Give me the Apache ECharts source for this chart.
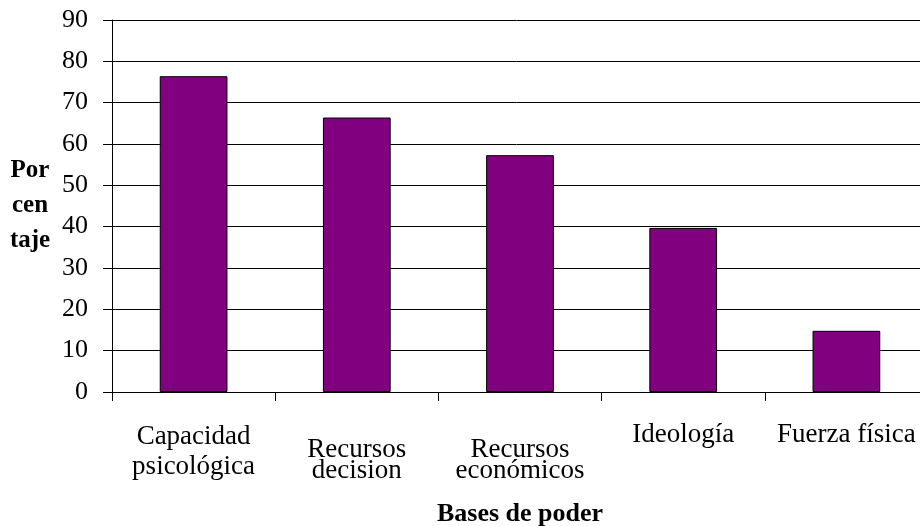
<!DOCTYPE html>
<html>
<head>
<meta charset="utf-8">
<script src="https://cdn.jsdelivr.net/npm/echarts@6/dist/echarts.min.js"></script>
<style>
  html, body { margin: 0; padding: 0; background: #fff; }
  #chart { width: 920px; height: 526px; }
</style>
</head>
<body>
<div id="chart"></div>
<script>
// Bases de poder: porcentaje por categoría
const categories = [
  'Capacidad\npsicológica',
  'Recursos\ndecision',
  'Recursos\neconómicos',
  'Ideología',
  'Fuerza física'
];
const percentages = [76.4, 66.4, 57.3, 39.7, 14.8];
const yTicks = { min: 0, max: 90, step: 10 };

const FONT = '"Liberation Serif", "DejaVu Serif", serif';

// two-line labels sit a little lower and tighter in some categories
const labelStyles = [
  { lineHeight: 30, padding: [0, 0, 0, 0] },
  { lineHeight: 21, padding: [17, 0, 0, 0] },
  { lineHeight: 21, padding: [17, 0, 0, 0] },
  { lineHeight: 30, padding: [-2, 0, 0, 0] },
  { lineHeight: 30, padding: [-2, 0, 0, 0] }
];

const chart = echarts.init(document.getElementById('chart'), null, { renderer: 'canvas' });

chart.setOption({
  animation: false,
  backgroundColor: '#ffffff',
  grid: {
    left: 112, right: -8, top: 20, bottom: 134,
    containLabel: false,
    outerBoundsMode: 'none'
  },
  xAxis: {
    type: 'category',
    data: categories.map((c, i) => ({ value: c, textStyle: labelStyles[i] })),
    name: 'Bases de poder',
    nameLocation: 'middle',
    nameGap: 109,
    nameTextStyle: { fontFamily: FONT, fontSize: 26, fontWeight: 'bold', color: '#000' },
    axisLine: { lineStyle: { color: '#000', width: 1 } },
    axisTick: { show: true, length: 9, alignWithLabel: false, lineStyle: { color: '#000' } },
    axisLabel: {
      interval: 0,
      margin: 30,
      fontFamily: FONT,
      fontSize: 27,
      color: '#000',
      align: 'center'
    },
    splitLine: { show: false }
  },
  yAxis: {
    type: 'value',
    min: yTicks.min,
    max: yTicks.max,
    interval: yTicks.step,
    name: 'Por\ncen\ntaje',
    nameLocation: 'middle',
    nameRotate: 0,
    nameGap: 82,
    nameTextStyle: {
      fontFamily: FONT, fontSize: 25, fontWeight: 'bold', color: '#000',
      lineHeight: 35, align: 'center', verticalAlign: 'middle'
    },
    axisLine: { show: true, lineStyle: { color: '#000', width: 1 } },
    axisTick: { show: true, length: 9, lineStyle: { color: '#000' } },
    axisLabel: {
      margin: 24,
      fontFamily: FONT,
      fontSize: 26,
      color: '#000'
    },
    splitLine: { show: true, lineStyle: { color: '#000', width: 1 } }
  },
  series: [{
    type: 'bar',
    data: percentages,
    barWidth: '41.5%',
    itemStyle: { color: '#800080', borderColor: '#000', borderWidth: 1 }
  }]
});
</script>
</body>
</html>
